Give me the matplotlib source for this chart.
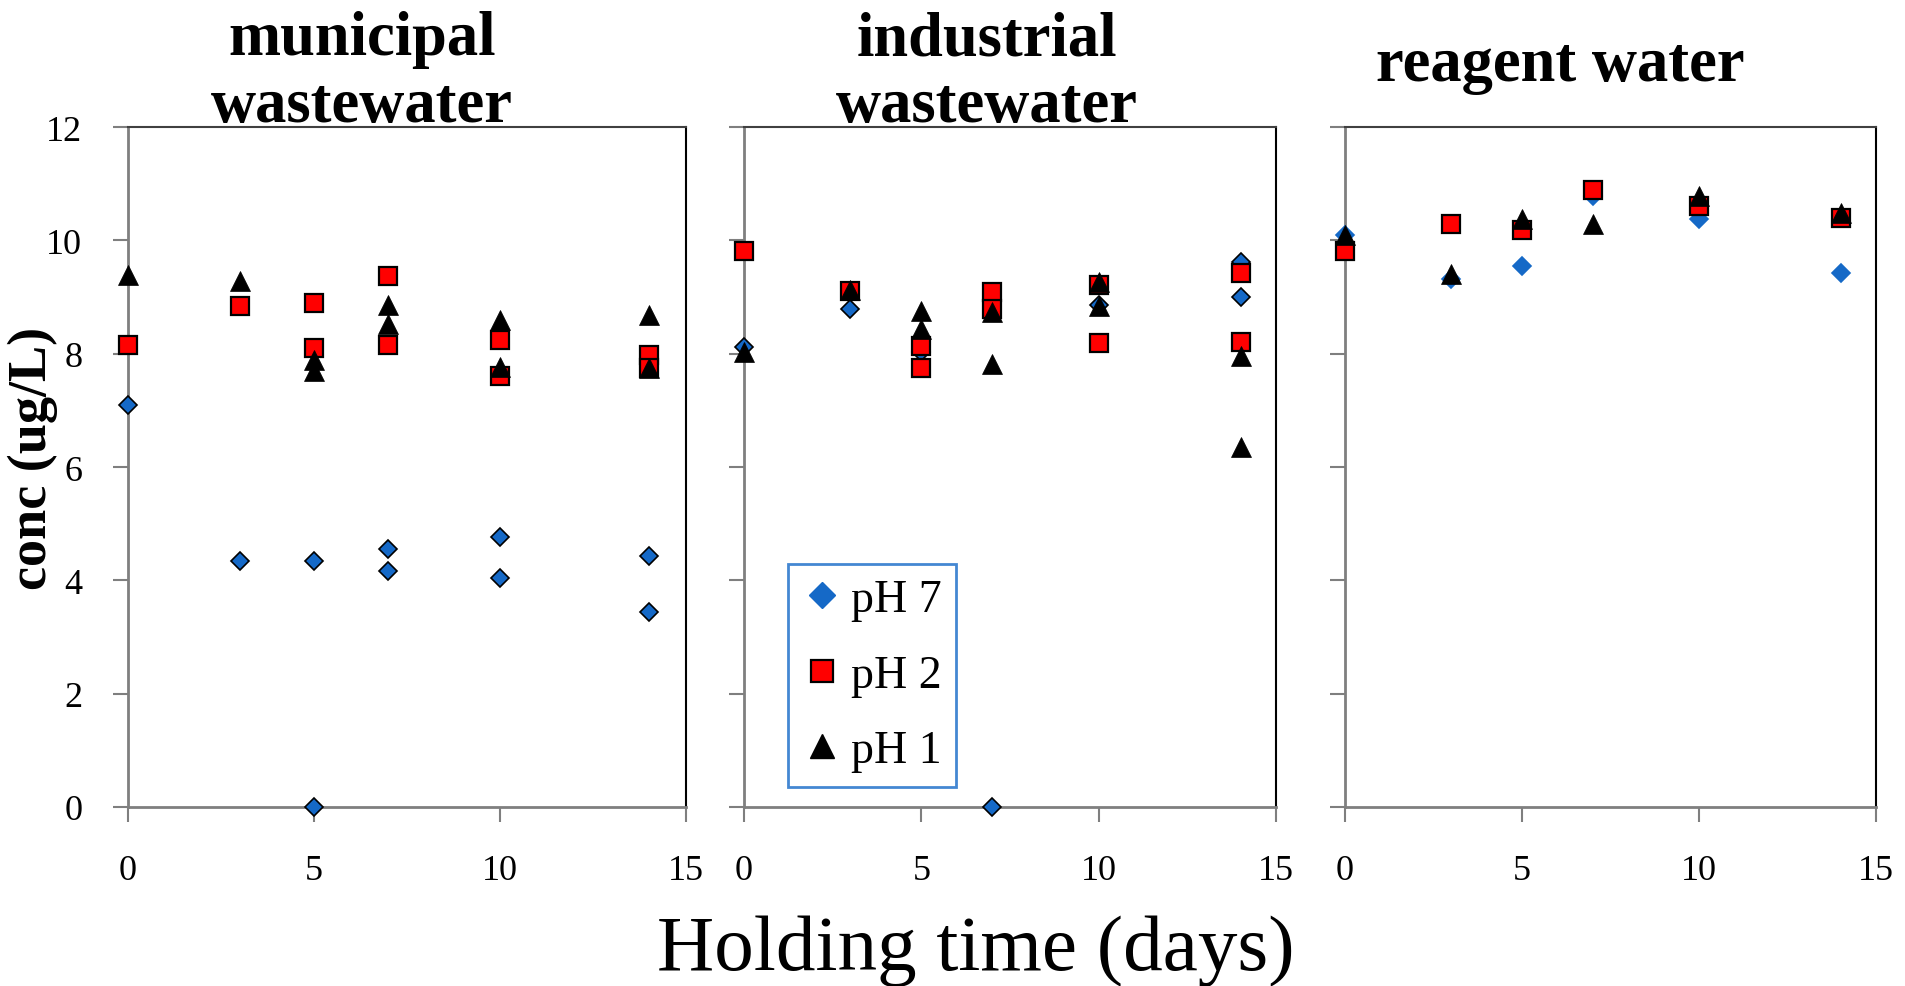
import matplotlib
matplotlib.use("Agg")
import matplotlib.pyplot as plt
from matplotlib.lines import Line2D

plt.rcParams['font.family'] = ['Liberation Serif', 'DejaVu Serif']

# holding time (days) and concentration (ug/L) per matrix and pH
muni_x = [0, 3, 5, 5, 7, 7, 10, 10, 14, 14]
muni_ph7 = [7.09, 4.34, 4.34, 0.0, 4.56, 4.16, 4.76, 4.05, 4.43, 3.45]
muni_ph2 = [8.15, 8.84, 8.90, 8.10, 9.37, 8.16, 8.25, 7.60, 7.97, 7.75]
muni_ph1 = [9.38, 9.29, 7.88, 7.70, 8.86, 8.53, 8.59, 7.76, 8.68, 7.74]

ind_x7 = [0, 3, 5, 7, 10, 14, 14]
ind_ph7 = [8.12, 8.78, 8.03, 0.0, 8.86, 9.62, 9.00]
ind_x = [0, 3, 5, 5, 7, 7, 10, 10, 14, 14]
ind_ph2 = [9.82, 9.10, 8.13, 7.74, 9.09, 8.78, 9.22, 8.18, 9.42, 8.20]
ind_ph1 = [8.03, 9.12, 8.76, 8.44, 8.74, 7.82, 9.26, 8.84, 7.96, 6.36]

rea_x = [0, 3, 5, 7, 10, 14]
rea_ph7 = [10.09, 9.31, 9.55, 10.79, 10.38, 9.43]
rea_ph2 = [9.81, 10.29, 10.19, 10.89, 10.60, 10.39]
rea_ph1 = [10.10, 9.40, 10.37, 10.28, 10.78, 10.49]

labels = ["pH 7", "pH 2", "pH 1"]

blue = '#1569C7'
grey = '#7f7f7f'

W, H = 1905, 987
fig = plt.figure(figsize=(W / 100, H / 100), dpi=100)

# axes boxes in pixels: left, right
boxes = [(128, 686), (744, 1276), (1345, 1876)]
top_px, bot_px = 128, 808
axes = []
for (l, r) in boxes:
    ax = fig.add_axes([l / W, 1 - bot_px / H, (r - l) / W, (bot_px - top_px) / H])
    axes.append(ax)

data = [
    (muni_x, muni_ph7, muni_x, muni_ph2, muni_x, muni_ph1, 'k'),
    (ind_x7, ind_ph7, ind_x, ind_ph2, ind_x, ind_ph1, 'k'),
    (rea_x, rea_ph7, rea_x, rea_ph2, rea_x, rea_ph1, blue),
]

for i, ax in enumerate(axes):
    x7, y7, x2, y2, x1, y1, dedge = data[i]
    ax.plot(x7, y7, linestyle='none', marker='D', markersize=9.5, color=blue,
            markeredgecolor=dedge, markeredgewidth=1.2, clip_on=False, zorder=3)
    ax.plot(x2, y2, linestyle='none', marker='s', markersize=13, color='#ff0000',
            markeredgecolor='k', markeredgewidth=1.6, clip_on=False, zorder=4)
    ax.plot(x1, y1, linestyle='none', marker='^', markersize=14, color='k',
            markeredgecolor='k', markeredgewidth=0.5, clip_on=False, zorder=5)

    ax.set_xlim(0, 15)
    ax.set_ylim(0, 12)
    ax.set_xticks([0, 5, 10, 15])
    ax.set_yticks([0, 2, 4, 6, 8, 10, 12])
    ax.tick_params(axis='both', direction='out', length=11, width=1.5, color=grey,
                   labelsize=26)
    ax.tick_params(axis='x', pad=23)
    ax.tick_params(axis='y', pad=22)
    if i > 0:
        ax.set_yticklabels([])
    for s in ['left', 'bottom']:
        ax.spines[s].set_color(grey)
        ax.spines[s].set_linewidth(2)
    ax.spines['top'].set_color('#404040')
    ax.spines['top'].set_linewidth(1.5)
    ax.spines['right'].set_color('k')
    ax.spines['right'].set_linewidth(1.5)

# panel titles
fig.text(362 / W, 1 - 55 / H, "municipal", ha='center', va='baseline',
         fontsize=45, fontweight='bold')
fig.text(362 / W, 1 - 122 / H, "wastewater", ha='center', va='baseline',
         fontsize=45, fontweight='bold')
fig.text(987 / W, 1 - 55 / H, "industrial", ha='center', va='baseline',
         fontsize=45, fontweight='bold')
fig.text(987 / W, 1 - 122 / H, "wastewater", ha='center', va='baseline',
         fontsize=45, fontweight='bold')
fig.text(1560 / W, 1 - 81 / H, "reagent water", ha='center', va='baseline',
         fontsize=45, fontweight='bold')

fig.text(33 / W, 1 - 458 / H, "conc (ug/L)", rotation=90, ha='center', va='center',
         fontsize=39, fontweight='bold')
fig.text(976 / W, 1 - 970 / H, "Holding time (days)", ha='center', va='baseline',
         fontsize=57)

# legend inside the industrial panel
handles = [
    Line2D([], [], linestyle='none', marker='D', markersize=13.5, color=blue,
           markeredgecolor=blue),
    Line2D([], [], linestyle='none', marker='s', markersize=16, color='#ff0000',
           markeredgecolor='k', markeredgewidth=1.6),
    Line2D([], [], linestyle='none', marker='^', markersize=17, color='k'),
]
leg = axes[1].legend(handles, labels, loc='upper left',
                     bbox_to_anchor=(788 / W, 1 - 565 / H),
                     bbox_transform=fig.transFigure, fontsize=33,
                     frameon=True, fancybox=False, handlelength=0.85,
                     handletextpad=0.2, labelspacing=0.72, borderpad=0.32,
                     borderaxespad=0)
leg.get_frame().set_edgecolor(blue)
leg.get_frame().set_linewidth(2)

fig.savefig("out.png", dpi=100)
